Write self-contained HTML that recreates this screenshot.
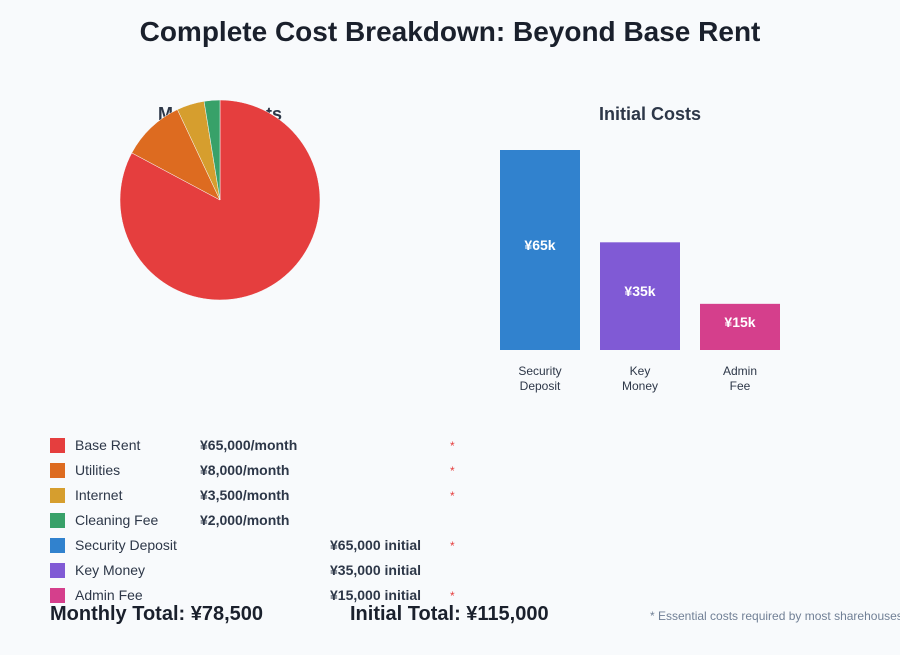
<!DOCTYPE html>
<html><head><meta charset="utf-8"><style>
body{margin:0;background:#f8fafc;font-family:"Liberation Sans",sans-serif;}
</style></head><body>
<svg width="900" height="650" xmlns="http://www.w3.org/2000/svg" font-family="Liberation Sans, sans-serif">
<rect width="900" height="650" fill="#f8fafc"/>
<text x="450" y="41" text-anchor="middle" font-size="28" font-weight="bold" fill="#1a202c">Complete Cost Breakdown: Beyond Base Rent</text>
<text x="220" y="120" text-anchor="middle" font-size="18" font-weight="bold" fill="#2d3748">Monthly Costs</text>
<g id="pie"></g>
<text x="650" y="120" text-anchor="middle" font-size="18" font-weight="bold" fill="#2d3748">Initial Costs</text>
<g id="bars"></g>
<g id="legend"></g>
<text x="50" y="620" font-size="20" font-weight="bold" fill="#1a202c">Monthly Total: ¥78,500</text>
<text x="350" y="620" font-size="20" font-weight="bold" fill="#1a202c">Initial Total: ¥115,000</text>
<text x="650" y="620" font-size="12" fill="#718096">* Essential costs required by most sharehouses</text>
</svg>
<script>
const monthlyLabels=["Base Rent","Utilities","Internet","Cleaning Fee"];
const monthlyValues=[65000,8000,3500,2000];
const monthlyColors=["#e53e3e","#dd6b20","#d69e2e","#38a169"];
const initialLabels=["Security Deposit","Key Money","Admin Fee"];
const initialValues=[65000,35000,15000];
const initialColors=["#3182ce","#805ad5","#d53f8c"];
const essential=[true,true,true,false,true,false,true];
const NS="http://www.w3.org/2000/svg";
function mk(t,a,p){const e=document.createElementNS(NS,t);for(const k in a)e.setAttribute(k,a[k]);p.appendChild(e);return e;}
const pie=document.getElementById('pie');
const cx=220,cy=200,r=100;
const tot=monthlyValues.reduce((a,b)=>a+b,0);
let ang=-Math.PI/2;
monthlyValues.forEach((v,i)=>{
  const a2=ang+v/tot*2*Math.PI;
  const x1=cx+r*Math.cos(ang),y1=cy+r*Math.sin(ang),x2=cx+r*Math.cos(a2),y2=cy+r*Math.sin(a2);
  const p=mk('path',{d:`M${cx},${cy}L${x1},${y1}A${r},${r} 0 ${a2-ang>Math.PI?1:0} 1 ${x2},${y2}Z`,fill:monthlyColors[i],stroke:"#f8fafc","stroke-width":0.5},pie);
  
  
  ang=a2;
});
const bars=document.getElementById('bars');
const base=350,maxH=200,maxV=Math.max(...initialValues);
const ys=v=>base-v/maxV*maxH;
initialValues.forEach((v,i)=>{
  const x=500+i*100;
  const b=mk('rect',{x:x,y:ys(v),width:80,height:base-ys(v),fill:initialColors[i]},bars);
  
  
  const t=mk('text',{x:x+40,y:(ys(v)+base)/2,"text-anchor":"middle","font-size":14,"font-weight":"bold",fill:"#fff"},bars);
  t.textContent='¥'+Math.round(v/1000)+'k';
  
  
  const words=initialLabels[i].split(' ');
  words.forEach((w,j)=>{
    const l=mk('text',{x:x+40,y:375+j*15,"text-anchor":"middle","font-size":12,fill:"#2d3748"},bars);
    l.textContent=w;
    
    
  });
});
const leg=document.getElementById('legend');
const all=monthlyLabels.map((l,i)=>({l,v:monthlyValues[i],c:monthlyColors[i],m:true})).concat(initialLabels.map((l,i)=>({l,v:initialValues[i],c:initialColors[i],m:false})));
all.forEach((d,i)=>{
  const y=438+i*25;
  const s=mk('rect',{x:50,y:y,width:15,height:15,fill:d.c},leg);
  
  
  const t=mk('text',{x:75,y:y+12,"font-size":14,fill:"#2d3748"},leg);
  t.textContent=d.l;
  
  
  const v=mk('text',{x:d.m?200:330,y:y+12,"font-size":14,"font-weight":"bold",fill:"#2d3748"},leg);
  v.textContent='¥'+d.v.toLocaleString('en-US')+(d.m?'/month':' initial');
  
  
  if(essential[i]){
    const a=mk('text',{x:450,y:y+12,"font-size":12,fill:"#e53e3e"},leg);
    a.textContent='*';
    
    
  }
});
</script>
</body></html>
